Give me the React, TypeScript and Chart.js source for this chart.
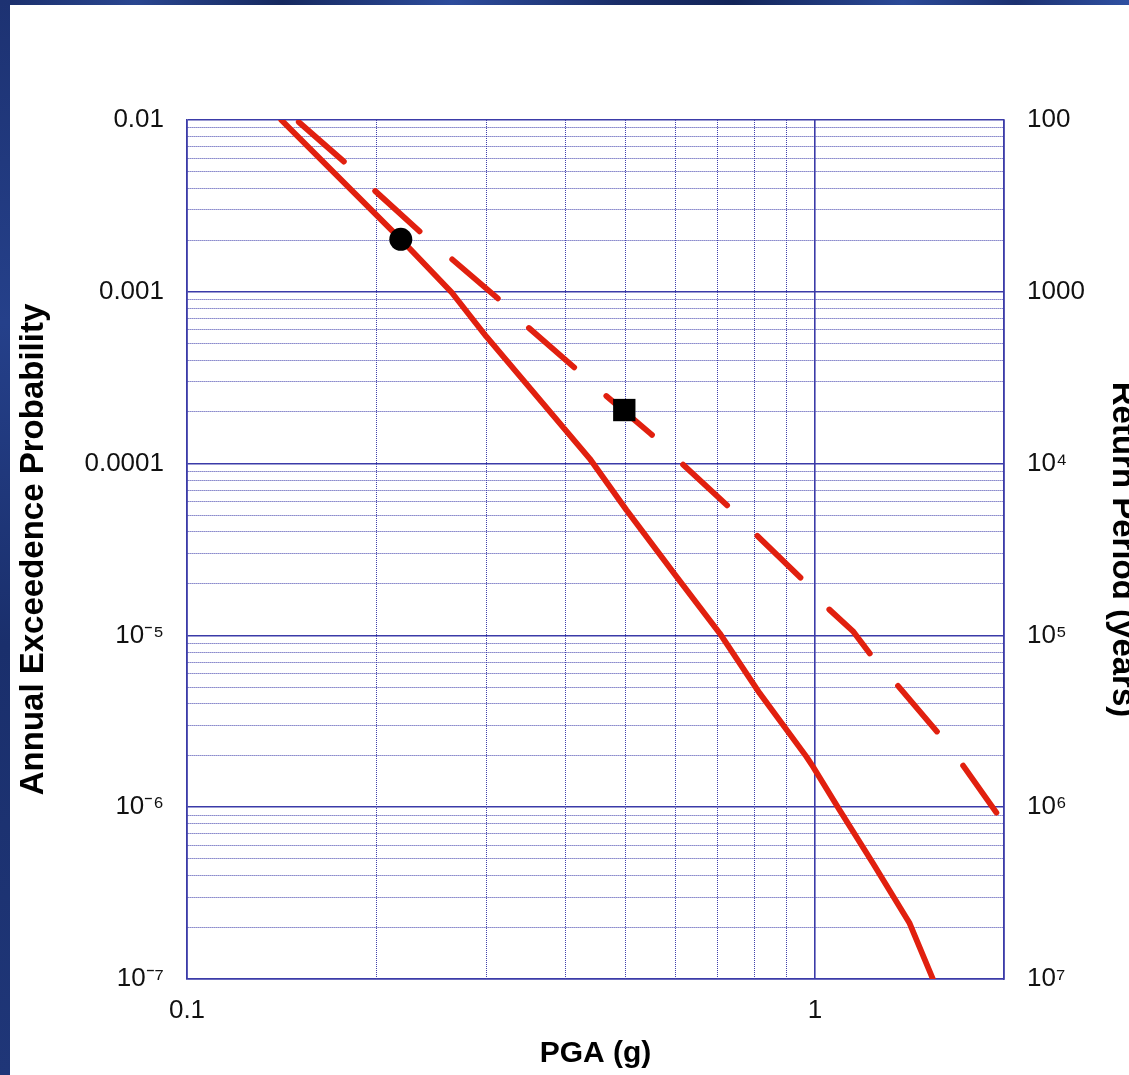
import React, { useEffect, useRef } from "react";
import { Chart, registerables } from "chart.js";

Chart.register(...registerables);

// ---- data ----
// solid curve (annual exceedance vs PGA)
const pgaSolid = [0.1413, 0.219, 0.264, 0.2998, 0.4377, 0.5009, 0.6016, 0.705, 0.8166, 0.969, 0.993, 1.095, 1.237, 1.415, 1.541];
const probSolid = [1e-2, 2.02e-3, 9.9e-4, 5.48e-4, 1.07e-4, 5.37e-5, 2.2e-5, 1.03e-5, 4.6e-6, 1.97e-6, 1.72e-6, 9.6e-7, 4.72e-7, 2.11e-7, 1e-7];

// dashed curve
const pgaDashed = [0.1494, 0.179, 0.198, 0.2375, 0.262, 0.3148, 0.347, 0.4143, 0.4586, 0.549, 0.607, 0.7314, 0.8046, 0.969, 1.055, 1.149, 1.237, 1.356, 1.576, 1.706, 1.945];
const probDashed = [1e-2, 5.6e-3, 3.95e-3, 2.16e-3, 1.59e-3, 8.96e-4, 6.35e-4, 3.61e-4, 2.59e-4, 1.48e-4, 1.04e-4, 5.54e-5, 3.88e-5, 2.01e-5, 1.41e-5, 1.06e-5, 7.42e-6, 5.08e-6, 2.67e-6, 1.83e-6, 9.29e-7];

// markers
const circlePoint = { x: 0.219, y: 2.02e-3 };
const squarePoint = { x: 0.497, y: 2.05e-4 };

// axes
const xMin = 0.1;
const xMax = 2;
const xGridValues = [0.1, 0.2, 0.3, 0.4, 0.5, 0.6, 0.7, 0.8, 0.9, 1, 2];
const xMajorValues = [0.1, 1, 2];
const xTickValues = [0.1, 1];
const xTickLabels = ["0.1", "1"];

const yMin = 1e-7;
const yMax = 1e-2;
const yDecades = [1e-7, 1e-6, 1e-5, 1e-4, 1e-3, 1e-2];
const yLeftLabels = ["10\u207B\u2077", "10\u207B\u2076", "10\u207B\u2075", "0.0001", "0.001", "0.01"];
const yRightLabels = ["10\u2077", "10\u2076", "10\u2075", "10\u2074", "1000", "100"];

const FONT = "'Liberation Sans', Arial, Helvetica, sans-serif";
const RED = "#e1200f";
const GRID_MAJOR = "#3b3ba8";
const GRID_MINOR = "#4040ac";

function sameVal(a: number, b: number) {
  return Math.abs(Math.log10(a) - Math.log10(b)) < 1e-6;
}
function isDecade(v: number) {
  const e = Math.log10(v);
  return Math.abs(e - Math.round(e)) < 1e-6;
}

function yGridValues() {
  const out: number[] = [];
  for (let e = -7; e <= -2; e++) {
    for (let m = 1; m <= 9; m++) {
      const v = m * Math.pow(10, e);
      if (v <= yMax * 1.000001) out.push(v);
    }
  }
  return out;
}

function labelFrom(values: number[], labels: string[], v: number) {
  for (let i = 0; i < values.length; i++) if (sameVal(values[i], v)) return labels[i];
  return "";
}

export default function App() {
  const ref = useRef<HTMLCanvasElement | null>(null);

  useEffect(() => {
    if (!ref.current) return;
    const xMajor = (ctx: any) => !!ctx.tick && xMajorValues.some((m) => sameVal(m, ctx.tick.value));
    const yMajor = (ctx: any) => !!ctx.tick && isDecade(ctx.tick.value);

    const chart = new Chart(ref.current, {
      type: "line",
      data: {
        datasets: [
          {
            label: "circle",
            data: [circlePoint],
            showLine: false,
            pointStyle: "circle",
            pointRadius: 11.5,
            pointBackgroundColor: "#000",
            pointBorderWidth: 0,
            borderColor: "#000",
          },
          {
            label: "square",
            data: [squarePoint],
            showLine: false,
            pointStyle: "rect",
            pointRadius: 15.8,
            pointBackgroundColor: "#000",
            pointBorderWidth: 0,
            borderColor: "#000",
          },
          {
            label: "solid",
            data: pgaSolid.map((x, i) => ({ x, y: probSolid[i] })),
            borderColor: RED,
            borderWidth: 5.8,
            pointRadius: 0,
            tension: 0,
            borderCapStyle: "round",
            borderJoinStyle: "round",
          },
          {
            label: "dashed",
            data: pgaDashed.map((x, i) => ({ x, y: probDashed[i] })),
            borderColor: RED,
            borderWidth: 5.8,
            pointRadius: 0,
            tension: 0,
            borderDash: [60, 43],
            borderDashOffset: -3,
            borderCapStyle: "round",
            borderJoinStyle: "round",
          },
        ],
      },
      options: {
        animation: false,
        responsive: false,
        events: [],
        layout: { padding: { top: 115, left: 0, right: 0, bottom: 0 } },
        plugins: {
          legend: { display: false },
          tooltip: { enabled: false },
          title: { display: false },
        },
        scales: {
          x: {
            type: "logarithmic",
            position: "bottom",
            min: xMin,
            max: xMax,
            afterBuildTicks: (s: any) => {
              s.ticks = xGridValues.map((v) => ({ value: v }));
            },
            afterFit: (s: any) => {
              s.height = 96;
            },
            ticks: {
              autoSkip: false,
              maxRotation: 0,
              padding: 16.4,
              color: "#111",
              font: { family: FONT, size: 26 },
              callback: (v: any) => labelFrom(xTickValues, xTickLabels, Number(v)),
            },
            grid: {
              drawTicks: false,
              color: (ctx: any) => (xMajor(ctx) ? GRID_MAJOR : GRID_MINOR),
              lineWidth: (ctx: any) => (xMajor(ctx) ? 1.6 : 1),
            },
            border: {
              display: true,
              color: GRID_MAJOR,
              width: 1.6,
              dash: (ctx: any) => (ctx.tick && !xMajor(ctx) ? [1, 1] : []),
            },
            title: {
              display: true,
              text: "PGA (g)",
              color: "#000",
              font: { family: FONT, size: 30, weight: "bold", lineHeight: 1 },
              padding: { top: 0, bottom: 6 },
            },
          },
          y: {
            type: "logarithmic",
            position: "left",
            min: yMin,
            max: yMax,
            afterBuildTicks: (s: any) => {
              s.ticks = yGridValues().map((v) => ({ value: v }));
            },
            afterFit: (s: any) => {
              s.width = 177;
            },
            ticks: {
              autoSkip: false,
              padding: 23,
              color: "#111",
              font: { family: FONT, size: 26 },
              callback: (v: any) => labelFrom(yDecades, yLeftLabels, Number(v)),
            },
            grid: {
              drawTicks: false,
              color: (ctx: any) => (yMajor(ctx) ? GRID_MAJOR : GRID_MINOR),
              lineWidth: (ctx: any) => (yMajor(ctx) ? 1.6 : 1),
            },
            border: {
              display: true,
              color: GRID_MAJOR,
              width: 1.6,
              dash: (ctx: any) => (ctx.tick && !yMajor(ctx) ? [1, 1] : []),
            },
            title: {
              display: true,
              text: "Annual Exceedence Probability",
              color: "#000",
              font: { family: FONT, size: 33, weight: "bold", lineHeight: 1.2 },
              padding: { top: 4.2, bottom: 0 },
            },
          },
          y2: {
            type: "logarithmic",
            position: "right",
            min: yMin,
            max: yMax,
            afterBuildTicks: (s: any) => {
              s.ticks = yDecades.map((v) => ({ value: v }));
            },
            afterFit: (s: any) => {
              s.width = 146;
            },
            ticks: {
              autoSkip: false,
              padding: 23,
              color: "#111",
              font: { family: FONT, size: 26 },
              callback: (v: any) => labelFrom(yDecades, yRightLabels, Number(v)),
            },
            grid: { drawOnChartArea: false, drawTicks: false },
            border: { display: true, color: GRID_MAJOR, width: 1.6 },
            title: {
              display: true,
              text: "Return Period (years)",
              color: "#000",
              font: { family: FONT, size: 33, weight: "bold", lineHeight: 1.2 },
              padding: { top: 8.4, bottom: 0 },
            },
          },
        },
      } as any,
    });
    return () => chart.destroy();
  }, []);

  return (
    <div
      style={{
        position: "fixed",
        left: 0,
        top: 0,
        width: 1129,
        height: 1075,
        overflow: "hidden",
        background: "#1c3170",
      }}
    >
      <div
        style={{
          position: "absolute",
          left: 0,
          top: 0,
          width: 1129,
          height: 5,
          background:
            "linear-gradient(90deg, #1b2f6b 0%, #2a4690 12%, #16295f 25%, #2d4c9c 40%, #1a2d68 55%, #132559 65%, #2b4a98 80%, #1c3170 90%, #2f50a2 100%)",
        }}
      />
      <div
        style={{
          position: "absolute",
          left: 0,
          top: 0,
          width: 10,
          height: 1075,
          background: "linear-gradient(180deg, #1d3272 0%, #25408a 30%, #1a2f6c 60%, #1f3678 100%)",
        }}
      />
      <div
        style={{
          position: "absolute",
          left: 10,
          top: 5,
          width: 1119,
          height: 1070,
          overflow: "hidden",
          background: "#ffffff",
        }}
      >
        <canvas ref={ref} width={1140} height={1070} style={{ display: "block", width: 1140, height: 1070 }} />
      </div>
    </div>
  );
}
